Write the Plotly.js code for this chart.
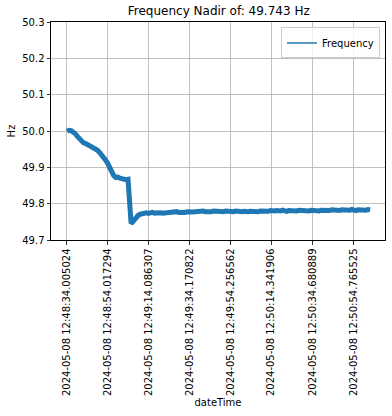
<!DOCTYPE html>
<html>
<head>
<meta charset="utf-8">
<script src="https://cdn.plot.ly/plotly-3.0.1.min.js"></script>
<style>html,body{margin:0;padding:0;background:#fff;}#chart{width:392px;height:416px;}</style>
</head>
<body>
<div id="chart"></div>
<script>
// seconds since 2024-05-08 12:48:34.005024
var seconds = [0,1,2,3,4,5,6,7,8,9,10,11,12,13,14,15,16,17,18,19,20,21,22,23,24,25,26,27,28,29,30,30.5,31,31.5,32,33,34,35,36,37,
38,39,40,41,42,43,44,45,46,47,48,49,50,51,52,53,54,55,56,57,58,59,60,61,62,63,64,65,66,67,68,69,70,71,72,73,74,75,76,77,78,79,
80,81,82,83,84,85,86,87,88,89,90,91,92,93,94,95,96,97,98,99,100,101,102,103,104,105,106,107,108,109,110,111,112,113,114,115,116,117,118,119,
120,121,122,123,124,125,126,127,128,129,130,131,132,133,134,135,136,137,138,139,140,141,142,143,144,145,146,147,148,149];
var frequency = [49.999,50.002,50.001,49.998,49.993,49.986,49.978,49.972,49.968,49.966,49.963,49.961,49.959,49.956,49.952,49.947,49.941,49.935,49.928,49.920,
49.911,49.899,49.887,49.877,49.872,49.873,49.870,49.868,49.867,49.866,49.867,49.835,49.770,49.746,49.748,49.756,49.763,49.768,49.771,49.773,
49.774,49.775,49.773,49.775,49.776,49.774,49.775,49.777,49.775,49.774,49.776,49.775,49.776,49.777,49.775,49.776,49.778,49.776,49.775,49.777,
49.776,49.778,49.777,49.779,49.777,49.778,49.779,49.777,49.778,49.780,49.778,49.777,49.779,49.778,49.780,49.779,49.778,49.780,49.779,49.778,
49.780,49.779,49.781,49.779,49.778,49.780,49.779,49.777,49.778,49.779,49.777,49.778,49.779,49.778,49.777,49.779,49.778,49.780,49.779,49.778,
49.780,49.779,49.781,49.779,49.780,49.781,49.779,49.780,49.782,49.780,49.779,49.781,49.780,49.782,49.781,49.780,49.782,49.781,49.780,49.782,
49.781,49.780,49.782,49.781,49.783,49.781,49.780,49.782,49.781,49.780,49.782,49.781,49.783,49.782,49.780,49.782,49.781,49.783,49.782,49.781,
49.783,49.782,49.784,49.782,49.781,49.783,49.782,49.784,49.783,49.782,49.784,49.783];
var tickSeconds = [0,20.01227,40.081283,60.165798,80.251538,100.336882,120.675865,140.760501];
var tickLabels = ["2024-05-08 12:48:34.005024","2024-05-08 12:48:54.017294","2024-05-08 12:49:14.086307","2024-05-08 12:49:34.170822",
"2024-05-08 12:49:54.256562","2024-05-08 12:50:14.341906","2024-05-08 12:50:34.680889","2024-05-08 12:50:54.765525"];
var yTicks = [49.7,49.8,49.9,50.0,50.1,50.2,50.3];
var nadir = 49.743;

var blue = '#1f77b4';
var traces = [
  {x: seconds, y: frequency, type: 'scatter', mode: 'lines', line: {color: blue, width: 5}, showlegend: false, hoverinfo: 'skip'},
  {x: [null], y: [null], type: 'scatter', mode: 'lines', name: 'Frequency', line: {color: blue, width: 1.5}}
];
var axisCommon = {
  showgrid: true, gridcolor: '#b0b0b0', gridwidth: 0.8,
  showline: true, linecolor: '#000', linewidth: 1, mirror: true,
  ticks: 'outside', ticklen: 3.5, tickwidth: 0.8, tickcolor: '#000',
  zeroline: false, tickfont: {family: 'DejaVu Sans', size: 10, color: '#000'}
};
var layout = {
  width: 392, height: 416,
  margin: {l: 51, r: 7, t: 22, b: 176},
  paper_bgcolor: '#fff', plot_bgcolor: '#fff',
  font: {family: 'DejaVu Sans', size: 10, color: '#000'},
  title: {text: 'Frequency Nadir of: ' + nadir.toFixed(3) + ' Hz', font: {family: 'DejaVu Sans', size: 12, color: '#000'}, x: 0.558, xanchor: 'center', y: 0.975, yanchor: 'middle'},
  xaxis: Object.assign({}, axisCommon, {
    range: [-7.86, 156.3], tickmode: 'array', tickvals: tickSeconds, ticktext: tickLabels, tickangle: -90,
    title: {text: 'dateTime', font: {family: 'DejaVu Sans', size: 10, color: '#000'}, standoff: 3}
  }),
  yaxis: Object.assign({}, axisCommon, {
    range: [49.7, 50.3], tickmode: 'array', tickvals: yTicks, ticktext: yTicks.map(function(v){return v.toFixed(1);}),
    title: {text: 'Hz', font: {family: 'DejaVu Sans', size: 10, color: '#000'}, standoff: 4}
  }),
  legend: {x: 0.985, xanchor: 'right', y: 0.975, yanchor: 'top', bgcolor: 'rgba(255,255,255,0.8)', bordercolor: '#cccccc', borderwidth: 1, font: {family: 'DejaVu Sans', size: 10, color: '#000'}}
};
Plotly.newPlot('chart', traces, layout, {staticPlot: true, displayModeBar: false});
</script>
</body>
</html>
